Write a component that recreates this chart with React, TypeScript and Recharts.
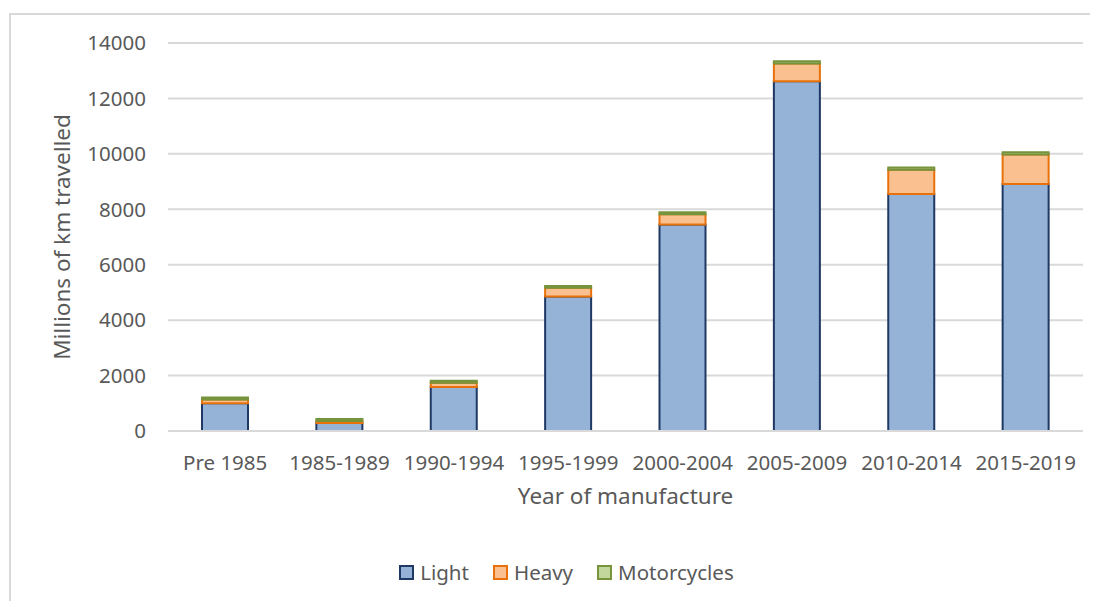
import React from "react";
import {
  BarChart,
  Bar,
  XAxis,
  YAxis,
  CartesianGrid,
  Legend,
} from "recharts";

const categories = [
  "Pre 1985",
  "1985-1989",
  "1990-1994",
  "1995-1999",
  "2000-2004",
  "2005-2009",
  "2010-2014",
  "2015-2019",
];
const light = [1000, 290, 1590, 4850, 7450, 12620, 8550, 8910];
const heavy = [135, 75, 150, 315, 370, 640, 880, 1070];
const motorcycles = [75, 65, 75, 70, 70, 85, 80, 80];
const yTicks = [0, 2000, 4000, 6000, 8000, 10000, 12000, 14000];

const data = categories.map((name, i) => ({
  name,
  Light: light[i],
  Heavy: heavy[i],
  Motorcycles: motorcycles[i],
}));

const FONT = "'Noto Sans', sans-serif";
const TEXT = "#595959";
const GRID = "#d9d9d9";

const series = [
  { key: "Light", fill: "#95b3d7", stroke: "#1f3864" },
  { key: "Heavy", fill: "#fac090", stroke: "#e8710a" },
  { key: "Motorcycles", fill: "#c3d69b", stroke: "#77933c" },
];

function renderLegend() {
  return (
    <div
      style={{
        display: "flex",
        justifyContent: "center",
        gap: 24,
        paddingLeft: 50,
        fontFamily: FONT,
        fontSize: 20.5,
        color: TEXT,
        height: 26,
        alignItems: "center",
      }}
    >
      {series.map((s) => (
        <span key={s.key} style={{ display: "flex", alignItems: "center" }}>
          <svg width={15} height={15} style={{ marginRight: 6 }}>
            <rect
              x={1}
              y={1}
              width={13}
              height={13}
              fill={s.fill}
              stroke={s.stroke}
              strokeWidth={2}
            />
          </svg>
          {s.key}
        </span>
      ))}
    </div>
  );
}

export default function App() {
  return (
    <div
      style={{
        position: "relative",
        marginLeft: -8,
        marginTop: -8,
        width: 1098,
        height: 601,
        overflow: "hidden",
        background: "#fff",
      }}
    >
      <div
        style={{
          position: "absolute",
          left: 9,
          top: 13,
          width: 1200,
          height: 700,
          borderLeft: `2px solid ${GRID}`,
          borderTop: `2px solid ${GRID}`,
        }}
      />
      <BarChart
        width={1098}
        height={601}
        data={data}
        margin={{ top: 43, right: 15, left: 0, bottom: 16 }}
        style={{ position: "absolute", left: 0, top: 0 }}
      >
        <CartesianGrid vertical={false} stroke={GRID} strokeWidth={2} />
        <XAxis
          dataKey="name"
          height={128}
          axisLine={{ stroke: GRID, strokeWidth: 2 }}
          tickLine={false}
          tickMargin={18}
          tick={{ fill: TEXT, fontSize: 20.5, fontFamily: FONT }}
          interval={0}
          label={{
            value: "Year of manufacture",
            position: "insideTop",
            offset: 57,
            fill: TEXT,
            fontSize: 22.5,
            fontFamily: FONT,
          }}
        />
        <YAxis
          width={168}
          domain={[0, 14000]}
          ticks={yTicks}
          axisLine={false}
          tickLine={false}
          tickSize={0}
          tickMargin={22}
          tick={{ fill: TEXT, fontSize: 20.5, fontFamily: FONT }}
          label={{
            value: "Millions of km travelled",
            angle: -90,
            position: "insideLeft",
            offset: 62,
            fill: TEXT,
            fontSize: 22.5,
            fontFamily: FONT,
            style: { textAnchor: "middle" },
          }}
        />
        <Legend verticalAlign="bottom" height={26} content={renderLegend} />
        {series.map((s) => (
          <Bar
            key={s.key}
            dataKey={s.key}
            stackId="a"
            fill={s.fill}
            stroke={s.stroke}
            strokeWidth={2}
            barSize={46}
            isAnimationActive={false}
          />
        ))}
      </BarChart>
    </div>
  );
}
